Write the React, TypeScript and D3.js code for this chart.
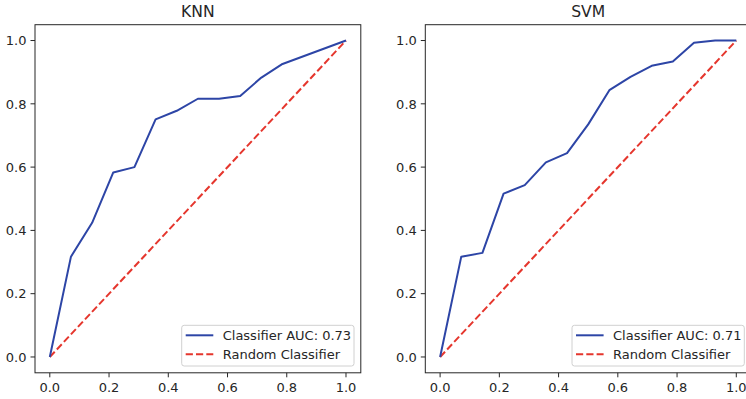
import React from "react";
import * as d3 from "d3";

// false positive rate steps and true positive rates
const fprKnn = [0, 1 / 14, 2 / 14, 3 / 14, 4 / 14, 5 / 14, 6 / 14, 7 / 14, 8 / 14, 9 / 14, 10 / 14, 11 / 14, 1];
const tprKnn = [0, 0.317, 0.424, 0.583, 0.6, 0.751, 0.778, 0.816, 0.816, 0.825, 0.883, 0.926, 1.0];

const fprSvm = [0, 1 / 14, 2 / 14, 3 / 14, 4 / 14, 5 / 14, 6 / 14, 7 / 14, 8 / 14, 9 / 14, 10 / 14, 11 / 14, 12 / 14, 13 / 14, 1];
const tprSvm = [0, 0.317, 0.329, 0.516, 0.543, 0.615, 0.644, 0.735, 0.843, 0.885, 0.92, 0.934, 0.993, 1.0, 1.0];

const ticks = [0, 0.2, 0.4, 0.6, 0.8, 1.0];
const randomLine = [0, 1];

const panels = [
  { title: "KNN", fpr: fprKnn, tpr: tprKnn, auc: "0.73", left: 35 },
  { title: "SVM", fpr: fprSvm, tpr: tprSvm, auc: "0.71", left: 425.3 },
];

const W = 746;
const H = 399;
const axW = 325.8;
const top = 24.7;
const bottom = 372.8;
const blue = "#2d45a6";
const red = "#e5362d";
const ink = "#262626";
const font = "DejaVu Sans, sans-serif";
const fs = 13;

const Panel = ({ p }) => {
  const x = d3.scaleLinear().domain([-0.05, 1.05]).range([p.left, p.left + axW]);
  const y = d3.scaleLinear().domain([-0.05, 1.05]).range([bottom, top]);
  const line = d3
    .line<number>()
    .x((_, i) => x(p.fpr[i]))
    .y((d) => y(d));
  const diag = d3
    .line<number>()
    .x((d) => x(d))
    .y((d) => y(d));

  // legend box anchored to lower right of the axes
  const lgRight = p.left + axW - 6.8;
  const lgLeft = lgRight - 172.3;
  const lgTop = bottom - 47.5;
  const lgBottom = bottom - 6.8;
  const row1 = lgTop + 10;
  const row2 = lgTop + 29;

  return (
    <g>
      <text x={p.left + axW / 2} y={16.9} textAnchor="middle" fontSize={15.6} fill={ink}>
        {p.title}
      </text>
      <path d={diag(randomLine) || ""} fill="none" stroke={red} strokeWidth={2} strokeDasharray="7.2,3.1" />
      <path d={line(p.tpr) || ""} fill="none" stroke={blue} strokeWidth={2} strokeLinejoin="round" />
      <rect x={p.left} y={top} width={axW} height={bottom - top} fill="none" stroke={ink} strokeWidth={1} />
      {ticks.map((t) => (
        <g key={"x" + t}>
          <line x1={x(t)} x2={x(t)} y1={bottom} y2={bottom + 4.5} stroke={ink} strokeWidth={1} />
          <text x={x(t)} y={391.7} textAnchor="middle" fontSize={fs} fill={ink}>
            {t.toFixed(1)}
          </text>
        </g>
      ))}
      {ticks.map((t) => (
        <g key={"y" + t}>
          <line x1={p.left - 4.5} x2={p.left} y1={y(t)} y2={y(t)} stroke={ink} strokeWidth={1} />
          <text x={p.left - 8.5} y={y(t) + 4.7} textAnchor="end" fontSize={fs} fill={ink}>
            {t.toFixed(1)}
          </text>
        </g>
      ))}
      <rect
        x={lgLeft}
        y={lgTop}
        width={lgRight - lgLeft}
        height={lgBottom - lgTop}
        rx={2.5}
        fill="white"
        fillOpacity={0.8}
        stroke="#d0d0d0"
        strokeWidth={1}
      />
      <line x1={lgLeft + 4} x2={lgLeft + 31.6} y1={row1} y2={row1} stroke={blue} strokeWidth={2} />
      <text x={lgLeft + 41} y={row1 + 4.7} fontSize={fs} fill={ink}>
        Classifier AUC: {p.auc}
      </text>
      <line
        x1={lgLeft + 4}
        x2={lgLeft + 31.6}
        y1={row2}
        y2={row2}
        stroke={red}
        strokeWidth={2}
        strokeDasharray="7.2,3.1"
      />
      <text x={lgLeft + 41} y={row2 + 4.7} fontSize={fs} fill={ink}>
        Random Classifier
      </text>
    </g>
  );
};

export default function App() {
  return (
    <svg
      width={W}
      height={H}
      fontFamily={font}
      style={{ position: "absolute", left: 0, top: 0, background: "white" }}
    >
      {panels.map((p) => (
        <Panel key={p.title} p={p} />
      ))}
    </svg>
  );
}
